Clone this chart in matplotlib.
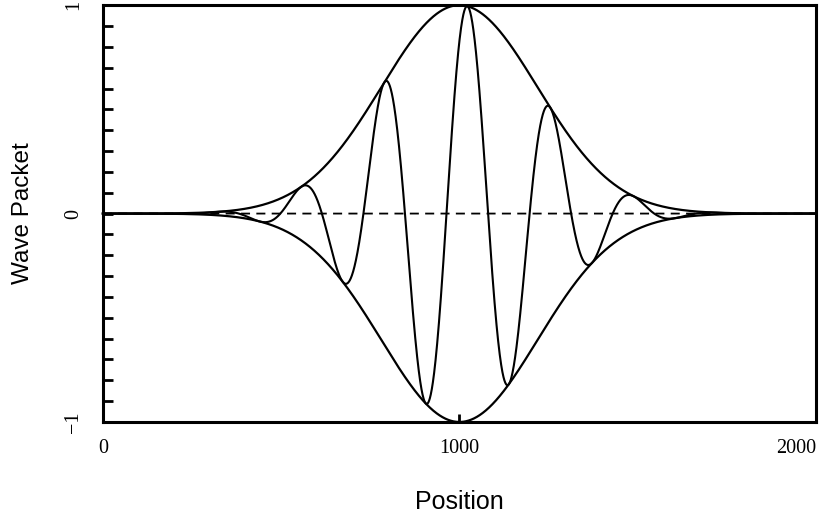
import numpy as np
import matplotlib.pyplot as plt
from matplotlib.ticker import MultipleLocator

# packet parameters (position units)
packet_center = 1000.0
packet_width = 219.0
wavelength = 233.0
crest = 1022.0

x_ticks = [0, 1000, 2000]
x_tick_labels = ["0", "1000", "2000"]
y_ticks = [-1, 0, 1]
y_tick_labels = ["\u22121", "0", "1"]

position = np.linspace(0, 2000, 4001)
envelope = np.exp(-0.5 * ((position - packet_center) / packet_width) ** 2)
wave = envelope * np.cos(2 * np.pi * (position - crest) / wavelength)

fig = plt.figure(figsize=(8.23, 5.14), dpi=100)
ax = fig.add_axes([0.125, 0.179, 0.8665, 0.811])

ax.plot(position, np.zeros_like(position), color="black", lw=1.3,
        ls=(0, (5, 3.5)))
ax.plot(position, envelope, color="black", lw=1.6, clip_on=False)
ax.plot(position, -envelope, color="black", lw=1.6, clip_on=False)
ax.plot(position, wave, color="black", lw=1.5, clip_on=False)

ax.set_xlim(0, 2000)
ax.set_ylim(-1, 1)

serif = ["Liberation Serif", "DejaVu Serif"]
ax.set_xticks(x_ticks)
ax.set_xticklabels(x_tick_labels, family=serif, fontsize=14.5)
ax.get_xticklabels()[-1].set_horizontalalignment("right")
ax.set_yticks(y_ticks)
ax.set_yticklabels(y_tick_labels, family=serif, fontsize=14.5, rotation=90,
                   va="center")
ax.yaxis.set_minor_locator(MultipleLocator(0.1))

ax.tick_params(axis="y", which="both", direction="in", length=7, width=2,
               pad=14, right=False)
ax.tick_params(axis="x", which="both", direction="in", length=6, width=2,
               pad=12, top=False)

for side in ax.spines.values():
    side.set_linewidth(2.2)

ax.set_xlabel("Position", family=["Liberation Sans"], fontsize=18, labelpad=23)
ax.set_ylabel("Wave Packet", family=["Liberation Sans"], fontsize=17.5,
              labelpad=22)

fig.savefig("out.png", dpi=100)
